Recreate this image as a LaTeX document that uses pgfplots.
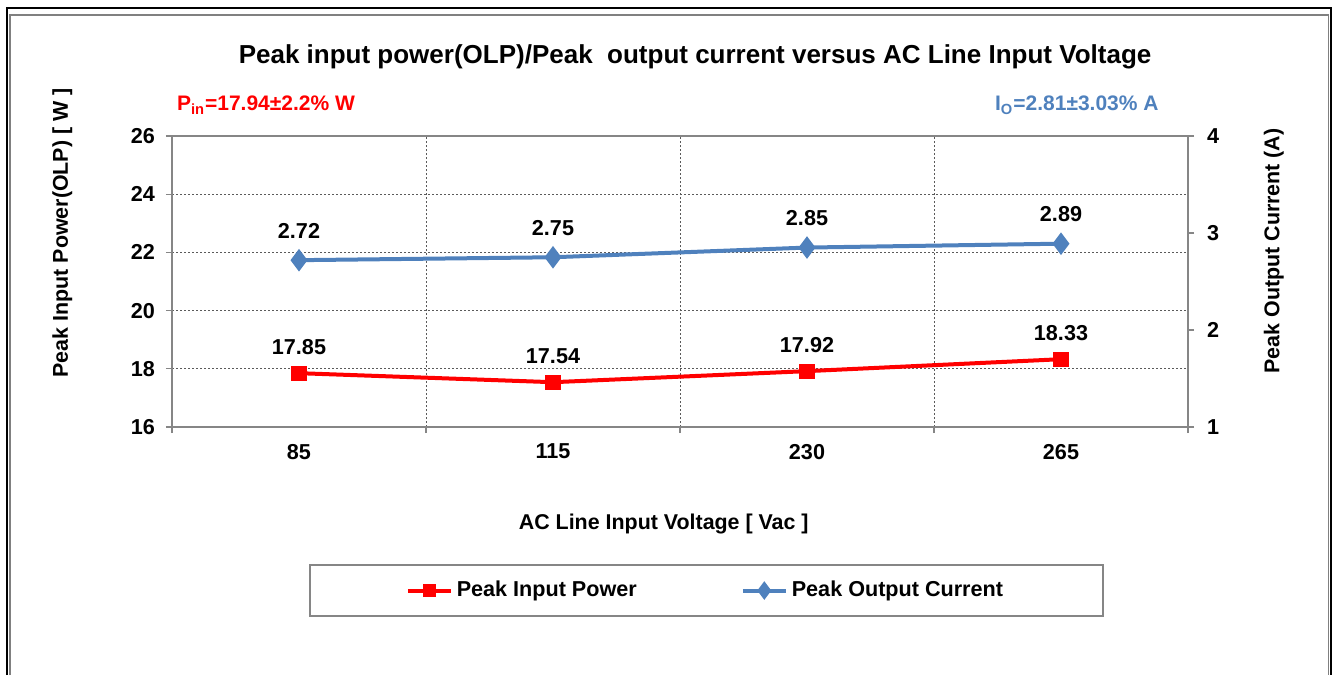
\documentclass[border=0pt]{standalone}
\usepackage{pgfplots}
\usepackage{pgfplotstable}
\pgfplotsset{compat=1.18}
\usepackage{fontspec}
\setmainfont{Liberation Sans}
\definecolor{exred}{RGB}{255,0,0}
\definecolor{exblue}{RGB}{79,129,189}
\definecolor{axgray}{RGB}{134,134,134}
\definecolor{gridgray}{RGB}{90,90,90}

\pgfplotstableread{
x P
0 17.85
1 17.54
2 17.92
3 18.33
}\pin
\pgfplotstableread{
x I
0 2.72
1 2.75
2 2.85
3 2.89
}\iout

\pgfplotsset{
  common/.style={
    scale only axis, width=508pt, height=145.5pt,
    at={(86pt,-213.5pt)}, anchor=south west,
    xmin=-0.5, xmax=3.5,
    tick align=outside,
    axis line style={axgray, line width=0.8pt},
    tick style={axgray, line width=0.6pt},
    major tick length=3pt,
    ticklabel style={font=\fontsize{10.8}{12}\selectfont\bfseries},
    /pgf/number format/assume math mode=true,
  },
  legend image code/.code={\draw[mark repeat=2,mark phase=2,#1] plot coordinates {(0pt,0pt) (10.75pt,0pt) (21.5pt,0pt)};},
}

\begin{document}
\begin{tikzpicture}
\begin{scope}[x=0.5pt,y=-0.5pt]
\useasboundingbox (0,0) rectangle (1332,675);
\draw[line width=1pt, black] (7,675) -- (7,7.5) -- (1330.5,7.5) -- (1330.5,675);
\draw[line width=0.8pt, gray] (9.8,675) -- (9.8,15) -- (1328.5,15) -- (1328.5,675);
\end{scope}

\begin{axis}[common, clip=false,
  ymin=16, ymax=26, ytick={16,18,...,26},
  ytick pos=left, xtick pos=bottom,
  yticklabel style={xshift=-2pt},
  xtick={-0.5,0.5,1.5,2.5,3.5}, xticklabels={},
  extra x ticks={0,1,2,3}, extra x tick labels={85,115,230,265},
  extra x tick style={xmajorgrids=false, major tick length=0pt, xticklabel style={yshift=-5pt}},
  xmajorgrids, ymajorgrids,
  grid style={gridgray, line width=0.5pt, dash pattern=on 1pt off 1pt},
  ylabel={Peak Input Power(OLP) [ W ]},
  ylabel style={at={(axis description cs:-0.108,0.667)}, anchor=center, font=\fontsize{10.7}{12}\selectfont\bfseries},
  xlabel={AC Line Input Voltage [ Vac ]},
  xlabel style={at={(axis description cs:0.484,-0.333)}, anchor=center, font=\fontsize{10.7}{12}\selectfont\bfseries},
  title={Peak input power(OLP)/Peak\ \ output current versus AC Line Input Voltage},
  title style={at={(axis description cs:0.5148,1.23)}, anchor=center, font=\fontsize{13}{15}\selectfont\bfseries},
  nodes near coords={\pgfmathprintnumber[fixed,zerofill,precision=2]{\pgfplotspointmeta}},
  every node near coord/.append style={font=\fontsize{10.8}{12}\selectfont\bfseries, anchor=south, inner sep=0pt, yshift=8pt, text=black},
]
\addplot[exred, line width=2pt, mark=square*, mark size=2.8pt, mark options={solid}] table[x=x,y=P] {\pin};
\node[anchor=west, text=exred, font=\fontsize{10.5}{12}\selectfont\bfseries] at (axis description cs:-0.002,1.106) {P\textsubscript{in}=17.94±2.2\% W};
\node[anchor=east, text=exblue, font=\fontsize{10.5}{12}\selectfont\bfseries] at (axis description cs:0.978,1.106) {I\textsubscript{O}=2.81±3.03\% A};
\end{axis}

\begin{axis}[common,
  axis y line*=right, axis x line=none,
  ymin=1, ymax=4, ytick={1,2,3,4},
  yticklabel style={xshift=3pt},
  ylabel={Peak Output Current (A)},
  ylabel style={at={(axis description cs:1.0846,0.605)}, anchor=center, font=\fontsize{10.7}{12}\selectfont\bfseries},
  nodes near coords={\pgfmathprintnumber[fixed,zerofill,precision=2]{\pgfplotspointmeta}},
  every node near coord/.append style={font=\fontsize{10.8}{12}\selectfont\bfseries, anchor=south, inner sep=0pt, yshift=10pt, text=black},
  legend columns=2,
  legend style={at={(axis description cs:0.526,-0.562)}, anchor=center, draw=axgray, line width=0.8pt,
    inner xsep=48pt, inner ysep=6pt, font=\fontsize{10.8}{12}\selectfont\bfseries,
    /tikz/every even column/.append style={column sep=50pt}},
]
\addlegendimage{exred, line width=2pt, mark=square*, mark size=2.2pt}
\addlegendentry{Peak Input Power}
\addlegendimage{exblue, line width=2pt, mark=diamond*, mark size=3pt}
\addlegendentry{Peak Output Current}
\addplot[exblue, line width=2pt, mark=diamond*, mark size=4pt, forget plot] table[x=x,y=I] {\iout};
\end{axis}
\end{tikzpicture}
\end{document}
